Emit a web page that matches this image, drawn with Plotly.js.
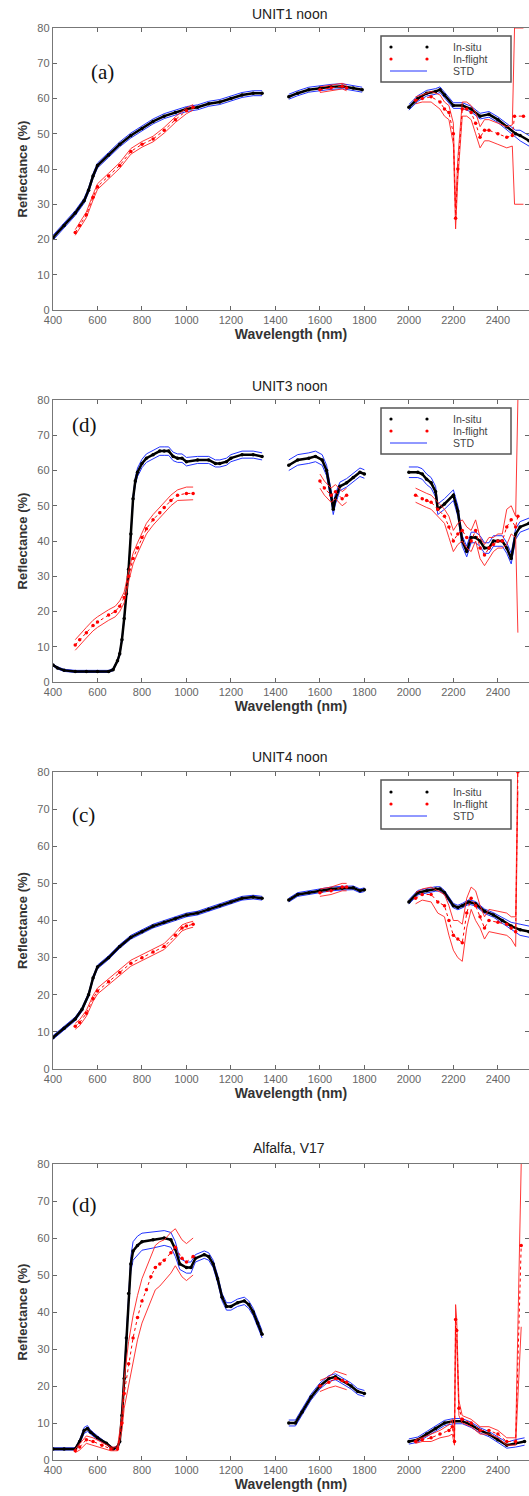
<!DOCTYPE html>
<html>
<head>
<meta charset="utf-8">
<script src="https://cdn.plot.ly/plotly-3.0.1.min.js"></script>
<style>html,body{margin:0;padding:0;background:#fff;}#chart{width:529px;height:1496px;}</style>
</head>
<body>
<div id="chart"></div>
<script>
// ---------------- DATA ----------------
const panelTitles = ["UNIT1 noon", "UNIT3 noon", "UNIT4 noon", "Alfalfa, V17"];
const panelLabels = ["(a)", "(d)", "(c)", "(d)"];
const legendNames = ["In-situ", "In-flight", "STD"];
const xTicks = [400, 600, 800, 1000, 1200, 1400, 1600, 1800, 2000, 2200, 2400];
const yTicks = [0, 10, 20, 30, 40, 50, 60, 70, 80];

// UNIT1
const u1Wl = [400,450,500,540,560,580,600,650,700,750,800,850,900,950,1000,1050,1100,1150,1200,1250,1300,1340,null,1460,1500,1550,1600,1650,1700,1750,1790,null,2000,2040,2080,2120,2140,2160,2200,2240,2280,2320,2360,2400,2440,2480,2500,2540];
const u1Situ = [20.5,24,27.5,31,34,38,41,44,47,49.5,51.5,53.5,55,56,57,57.5,58.5,59,60,61,61.5,61.5,null,60.5,61.5,62.5,63,63.3,63.5,63,62.5,null,57.5,60,61.5,62,62.5,61,58,58,57,55,55.5,54,52,50,49.5,48];
const u1SituStd = [0.7,0.7,0.7,0.7,0.7,0.7,0.7,0.7,0.7,0.7,0.7,0.7,0.7,0.7,0.7,0.7,0.7,0.7,0.7,0.7,0.7,0.7,null,0.7,0.7,0.7,0.7,0.7,0.7,0.7,0.7,null,0.8,0.8,0.8,0.8,0.8,0.8,0.8,0.8,0.8,0.8,0.8,0.8,0.8,1,1.5,1.5];
const u1FWl = [500,520,550,580,600,650,700,750,800,850,900,950,1000,1030,null,1600,1650,1700,1720,null,2030,2060,2100,2140,2160,2180,2200,2210,2220,2240,2260,2280,2300,2320,2340,2360,2400,2440,2465,2475,2515];
const u1Flight = [22,24,27,32,35,38,41,45,47,48.5,51,54,56.5,57.5,null,62.5,63,63.5,63,null,59.5,60,60.5,59,57,56,50,26,40,57,57,56,53,49,51,51,50,49,49.5,55,55];
const u1FStd = [0.8,0.8,0.8,0.8,0.8,0.8,0.8,0.8,0.8,0.8,0.8,0.8,0.8,0.8,null,0.8,0.8,0.8,0.8,null,1,1,1.5,2,2,2,3,3,3,2,2,2,3,3,3,3,3,3,3,25,25];

// UNIT3
const u3Wl = [400,420,450,500,550,600,650,670,690,700,710,720,730,740,750,760,770,780,800,820,850,880,900,920,940,960,980,1000,1050,1100,1130,1150,1180,1200,1250,1300,1340,null,1460,1500,1550,1580,1610,1630,1650,1660,1670,1690,1720,1750,1780,1800,null,2000,2040,2060,2080,2100,2120,2130,2160,2200,2220,2240,2260,2280,2300,2320,2340,2360,2380,2400,2420,2440,2460,2480,2500,2540];
const u3Situ = [4.8,4,3.3,3,3,3,3,3.5,6,8,12,18,25,32,42,52,57,59.5,62,63.5,64.5,65.5,65.5,65.5,64,63.5,63.5,62.5,63,63,62,62,62.5,63.5,64.5,64.5,64,null,61.5,63,63.5,64,63,60,53,49,52,55.5,56.5,58,59.5,59,null,59.5,59.5,59,57.5,56.5,54,49,50.5,53,48.5,40,37,41,41,40,38,38,40,40,40,38,35,42,44,45];
const u3SituStd = [0.3,0.3,0.3,0.3,0.3,0.3,0.3,0.3,0.3,0.5,0.5,0.5,0.5,0.5,0.5,0.8,1,1.2,1.2,1.2,1.2,1.2,1.2,1.2,1.2,1.2,1.2,1.2,1,1,1,1,1,1,1,1,1,null,1.5,1.5,1.5,1.5,1.5,1.5,1.5,1.5,1.5,1.2,1.2,1.2,1.2,1.2,null,1.5,1.5,1.5,1.5,1.5,1.5,1.5,1.5,1.5,1.5,1.5,1.5,1.5,1.5,1.5,1.5,1.5,1.5,1.5,1.5,1.5,1.5,1.5,1.5,1.5];
const u3FWl = [500,520,550,580,600,650,680,700,720,740,760,780,800,820,850,880,900,930,960,1000,1030,null,1600,1620,1650,1670,1700,1720,null,2030,2060,2080,2100,2130,2160,2180,2200,2220,2240,2260,2280,2300,2320,2340,2360,2380,2400,2420,2440,2460,2480,2490];
const u3Flight = [10.5,12,14,16,17,19,20,21.5,24,30,35,38,41,43.5,46,48,49.5,51.5,53,53.5,53.5,null,57,55,53,54,52,53,null,53,52,51.5,51,49,47,44,40,42,43,41,40,43,38,36,38,39,40,40,44,46,44,47];
const u3FStd = [1.5,1.5,1.5,1.5,1.5,1.5,1.5,1.5,1.5,1.5,1.5,1.5,1.5,1.5,1.5,1.5,1.5,1.5,1.5,1.8,1.8,null,2,2,2,2,2,2,null,2,2,2,2,2,2,3,3,3,3,3,3,3,3,3,3,2,2,2,5,4,3,33];

// UNIT4
const u4Wl = [400,450,500,530,560,580,600,650,700,750,800,850,900,950,1000,1050,1100,1150,1200,1250,1300,1340,null,1460,1500,1550,1600,1650,1700,1750,1780,1800,null,2000,2040,2080,2120,2140,2160,2200,2220,2240,2270,2300,2340,2380,2420,2460,2500,2540];
const u4Situ = [8.5,11,13.5,16,20,24.5,27.5,30,33,35.5,37,38.5,39.5,40.5,41.5,42,43,44,45,46,46.3,46,null,45.5,47,47.5,48,48.5,48.7,48.8,48,48.3,null,45,47.5,48,48.5,48.5,47.5,44,43.5,44,45,44.5,42.5,41.5,40,38.5,37.5,37];
const u4SituStd = [0.5,0.5,0.5,0.5,0.5,0.5,0.5,0.5,0.5,0.5,0.5,0.5,0.5,0.5,0.5,0.5,0.5,0.5,0.5,0.5,0.5,0.5,null,0.5,0.5,0.5,0.5,0.5,0.5,0.5,0.5,0.5,null,0.6,0.6,0.6,0.6,0.6,0.6,0.6,0.6,0.6,0.6,0.6,0.6,0.6,0.8,1,1.5,1.5];
const u4FWl = [500,520,550,580,600,650,700,750,800,850,900,950,980,1000,1030,null,1600,1650,1700,1720,null,2030,2060,2100,2130,2160,2180,2200,2220,2240,2260,2280,2300,2320,2340,2360,2400,2440,2460,2480,2490];
const u4Flight = [11.5,12.5,15,19,21,23.5,26,28.5,30,31.5,33,36,38,38.5,39,null,47.5,48,49,49,null,46,47,47,45,44,40,36,35,34,42,46,44,41,38,40,39.5,39,38,37,80];
const u4FStd = [0.8,0.8,0.8,0.8,0.8,0.8,0.8,0.8,0.8,0.8,0.8,0.8,0.8,0.8,0.8,null,1,1,1,1,null,1.5,1.5,2,3,3,4,4,5,5,4,3,4,3,3,3,3,3,3,4,5];

// Alfalfa V17
const alWl = [400,450,500,520,540,555,570,600,640,670,690,700,710,720,730,740,750,760,780,800,850,900,930,950,970,1000,1020,1040,1080,1100,1120,1140,1160,1180,1200,1230,1260,1280,1300,1320,1340,null,1460,1490,1520,1560,1600,1640,1670,1700,1740,1770,1800,null,2000,2040,2080,2120,2160,2200,2240,2280,2320,2360,2400,2440,2480,2520];
const alSitu = [3,3,3,5,8,8.5,7.5,6,4.5,3,3.5,5,12,22,33,45,53,56.5,58,59,59.5,60,59.5,57,53,52,52,54.5,55.5,55,53,49,44,41.5,41.5,42.5,43,42,40,37,34,null,10,10,13,17,20,22,22.5,21.5,20,18.5,18,null,5,5.5,7,8.5,10,10.5,10.5,9.5,8,7,5.5,4,4.5,5];
const alSituStd = [0.3,0.3,0.3,0.5,0.8,0.8,0.5,0.5,0.3,0.3,0.3,0.5,1,1.5,2,2,2,2.5,2.5,2.3,2.2,2,2,2,1.5,1.5,1.5,1,1,1,1,1,1,1,1,1,1,1,1,1,1,null,0.8,0.8,0.8,0.8,0.8,0.8,0.8,0.8,0.8,0.8,0.8,null,0.7,0.7,0.7,0.7,0.7,0.7,0.7,0.7,0.7,0.7,0.7,0.8,1,1];
const alFWl = [500,520,550,580,620,660,690,710,720,740,760,780,800,820,840,860,880,900,930,950,980,1000,1030,null,1600,1640,1670,1700,1720,null,2030,2060,2100,2140,2180,2195,2205,2210,2215,2225,2240,2280,2320,2360,2400,2440,2480,2505];
const alFlight = [2.5,3.5,5.5,5,4,3,3,10,18,26,33,38.5,43,46,49.5,52,53,54,56,57.5,54.5,53.5,55,null,20,21,22,21.5,21,null,5,5.5,6,7,8,9,5,38,35,14,11,10,8,8,7,5,5,58];
const alFStd = [0.5,0.8,1,1,0.8,0.5,0.5,2,4,6,6,6,6,6,6,6,6,5.5,5.5,5,5,5,5,null,1.5,1.5,2,2,2,null,0.5,0.5,1,1,1.5,2,1,4,3,2,1,1,1,1,1,1,1,22];

// ---------------- BUILD ----------------
const W = 529, H = 1496;
const px = v => v / W;
const py = v => 1 - v / H;

const panels = [
  {wl:u1Wl, situ:u1Situ, sStd:u1SituStd, fwl:u1FWl, fl:u1Flight, fStd:u1FStd, top:28, bot:310, legend:true, titleY:14, lab:[102,72]},
  {wl:u3Wl, situ:u3Situ, sStd:u3SituStd, fwl:u3FWl, fl:u3Flight, fStd:u3FStd, top:400, bot:682, legend:true, titleY:386, lab:[84,425]},
  {wl:u4Wl, situ:u4Situ, sStd:u4SituStd, fwl:u4FWl, fl:u4Flight, fStd:u4FStd, top:772, bot:1069, legend:true, titleY:757, lab:[83,815]},
  {wl:alWl, situ:alSitu, sStd:alSituStd, fwl:alFWl, fl:alFlight, fStd:alFStd, top:1164, bot:1460, legend:false, titleY:1148, lab:[84,1205]}
];

const addStd = (m, s, sign) => m.map((v, i) => (v === null ? null : v + sign * s[i]));

const traces = [];
const layout = {
  width: W, height: H,
  margin: {l:0, r:0, t:0, b:0},
  paper_bgcolor: '#fff', plot_bgcolor: '#fff',
  font: {family: 'Liberation Sans, Arial, sans-serif', color: '#333'},
  annotations: [],
  shapes: [],
  showlegend: false
};

const axFont = {family: 'Liberation Sans, Arial, sans-serif', size: 11, color: '#666'};
const BLUE = '#2233ff', RED = '#ff0000';

panels.forEach((p, k) => {
  const n = k === 0 ? '' : String(k + 1);
  const xa = 'x' + n, ya = 'y' + n;
  traces.push({x:p.wl, y:addStd(p.situ, p.sStd, 1), xaxis:xa, yaxis:ya, mode:'lines', line:{color:BLUE, width:1}, hoverinfo:'skip'});
  traces.push({x:p.wl, y:addStd(p.situ, p.sStd, -1), xaxis:xa, yaxis:ya, mode:'lines', line:{color:BLUE, width:1}, hoverinfo:'skip'});
  traces.push({x:p.wl, y:p.situ, xaxis:xa, yaxis:ya, mode:'lines+markers', name:legendNames[0], line:{color:'#000', width:2.5}, marker:{color:'#000', size:3.5, symbol:'circle'}});
  traces.push({x:p.fwl, y:addStd(p.fl, p.fStd, 1), xaxis:xa, yaxis:ya, mode:'lines', line:{color:'#ff2020', width:0.9}, hoverinfo:'skip'});
  traces.push({x:p.fwl, y:addStd(p.fl, p.fStd, -1), xaxis:xa, yaxis:ya, mode:'lines', line:{color:'#ff2020', width:0.9}, hoverinfo:'skip'});
  traces.push({x:p.fwl, y:p.fl, xaxis:xa, yaxis:ya, mode:'lines+markers', name:legendNames[1], line:{color:RED, width:1, dash:'dot'}, marker:{color:RED, size:3.5, symbol:'circle'}});

  layout['xaxis' + n] = {
    domain:[px(53), 1], anchor:ya, range:[400, 2540],
    tickvals:xTicks, ticks:'inside', ticklen:4, tickcolor:'#666',
    showline:true, linecolor:'#777', linewidth:1.2, mirror:'ticks',
    showgrid:false, zeroline:false, tickfont:axFont,
    title:{text:'Wavelength (nm)', standoff:1, font:{family:'Liberation Sans, Arial, sans-serif', size:14, weight:'bold', color:'#333'}}
  };
  layout['yaxis' + n] = {
    domain:[py(p.bot), py(p.top)], anchor:xa, range:[0, 80],
    tickvals:yTicks, ticks:'inside', ticklen:4, tickcolor:'#666',
    showline:true, linecolor:'#777', linewidth:1.2, mirror:'ticks',
    showgrid:false, zeroline:false, tickfont:axFont,
    title:{text:'Reflectance (%)', standoff:6, font:{family:'Liberation Sans, Arial, sans-serif', size:13, weight:'bold', color:'#333'}}
  };
  layout.annotations.push({xref:'paper', yref:'paper', x:px(289), y:py(p.titleY), text:panelTitles[k], showarrow:false, xanchor:'center', yanchor:'middle', font:{family:'Liberation Sans, Arial, sans-serif', size:14, color:'#222'}});
  layout.annotations.push({xref:'paper', yref:'paper', x:px(p.lab[0]), y:py(p.lab[1]), text:panelLabels[k], showarrow:false, xanchor:'center', yanchor:'middle', font:{family:'Liberation Serif, Times New Roman, serif', size:21, color:'#111'}});

  // MATLAB-style legend box (panels 1-3)
  if (p.legend) {
    const t = p.top;
    const boxBottom = k === 2 ? t + 57 : t + 54;
    layout.shapes.push({type:'rect', xref:'paper', yref:'paper', x0:px(381), x1:px(511), y0:py(boxBottom), y1:py(t + 8), line:{color:'#555', width:1.5}, fillcolor:'#fff', layer:'above'});
    const rows = k === 2 ? [t + 20, t + 32, t + 44] : [t + 19, t + 31, t + 43];
    const symColors = ['#000', RED];
    [0, 1].forEach(r => {
      [391, 427].forEach(cx => {
        layout.shapes.push({type:'circle', xref:'paper', yref:'paper', x0:px(cx - 1.6), x1:px(cx + 1.6), y0:py(rows[r] + 1.6), y1:py(rows[r] - 1.6), line:{width:0}, fillcolor:symColors[r], layer:'above'});
      });
    });
    layout.shapes.push({type:'line', xref:'paper', yref:'paper', x0:px(390), x1:px(427), y0:py(rows[2]), y1:py(rows[2]), line:{color:BLUE, width:1}, layer:'above'});
    legendNames.forEach((nm, r) => {
      layout.annotations.push({xref:'paper', yref:'paper', x:px(451), y:py(rows[r]), text:nm, showarrow:false, xanchor:'left', yanchor:'middle', font:{family:'Liberation Sans, Arial, sans-serif', size:10.5, color:'#444'}});
    });
  }
});

Plotly.newPlot('chart', traces, layout, {staticPlot:true, displayModeBar:false});
</script>
</body>
</html>
